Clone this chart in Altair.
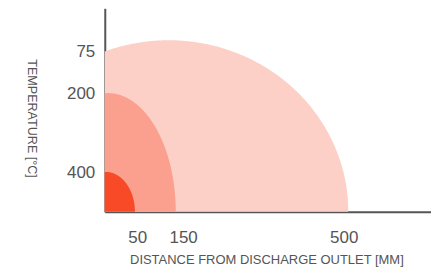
import numpy as np
import pandas as pd
import altair as alt

# Zones (outer to inner)
temps = [75, 200, 400]                 # temperature label of each zone [°C]
reach_mm = [510, 134, 45]              # right edge of each zone along the x axis [mm]
center_mm = [118.5, -14, -18.5]        # x position of each zone's ellipse centre [mm]
height_u = [172, 119, 40]              # vertical reach of each zone (chart units)
colors = ["#fdd0c7", "#fba08f", "#f84a26"]

x_ticks = [50, 150, 500]
X_MIN, X_MAX = -20.7, 690.2
Y_MIN, Y_MAX = 0, 204

rows = []
for k, (t, r, c, b) in enumerate(zip(temps, reach_mm, center_mm, height_u)):
    a = r - c
    start = max(X_MIN, c - a)
    u = np.linspace(0, 1, 250)
    xs = [X_MIN] + [float(start + (r - start) * np.sin(v * np.pi / 2)) for v in u[1:]]
    for xv in xs:
        yv = b * np.sqrt(max(0.0, 1 - ((xv - c) / a) ** 2))
        rows.append({"zone": k, "x": round(float(xv), 3), "y": round(float(yv), 3)})
df = pd.DataFrame(rows)

# y ticks sit where each zone meets the temperature axis
y_tick_vals = []
for c, r, b in zip(center_mm, reach_mm, height_u):
    a = r - c
    v = float(b * np.sqrt(max(0.0, 1 - ((X_MIN - c) / a) ** 2))) - 0.5
    y_tick_vals.append(round(v, 1))
label_expr = "".join(
    f"(datum.value > {v - 1} && datum.value < {v + 1}) ? '{t}' : "
    for v, t in zip(y_tick_vals, temps)
) + "''"

FONT = "Liberation Sans"
GRAY = "#555555"

xscale = alt.Scale(domain=[X_MIN, X_MAX], nice=False, zero=False)
yscale = alt.Scale(domain=[Y_MIN, Y_MAX], nice=False, zero=False)

x_axis = alt.Axis(values=x_ticks, title="DISTANCE FROM DISCHARGE OUTLET [MM]",
                  grid=False, ticks=False, domainColor=GRAY, domainWidth=2,
                  labelFontSize=17, labelColor=GRAY, labelFont=FONT,
                  labelPadding=18, titleFont=FONT, titleFontSize=13,
                  titleFontWeight="normal", titleColor=GRAY,
                  titleX=162, titleY=52, titleAlign="center", titleBaseline="alphabetic")
y_axis = alt.Axis(values=y_tick_vals, labelExpr=label_expr,
                  title="TEMPERATURE [°C]", grid=False, ticks=False,
                  domainColor=GRAY, domainWidth=2,
                  labelFontSize=17, labelColor=GRAY, labelFont=FONT,
                  labelPadding=10, labelBaseline="middle",
                  titleFont=FONT, titleFontSize=12.6, titleFontWeight="normal",
                  titleColor=GRAY, titleAngle=90, titleX=-67, titleY=110,
                  titleAlign="center", titleBaseline="top")

layers = []
for k, col in enumerate(colors):
    sub = df[df["zone"] == k]
    layers.append(
        alt.Chart(sub).mark_area(color=col).encode(
            x=alt.X("x:Q", scale=xscale, axis=x_axis),
            y=alt.Y("y:Q", scale=yscale, axis=y_axis),
        )
    )

chart = alt.layer(*layers).properties(
    width=327, height=204,
    padding={"left": 17, "top": 0, "right": 0, "bottom": 0},
).configure_view(stroke=None)

chart.save("out.html", embed_options={"renderer": "svg", "actions": False})
